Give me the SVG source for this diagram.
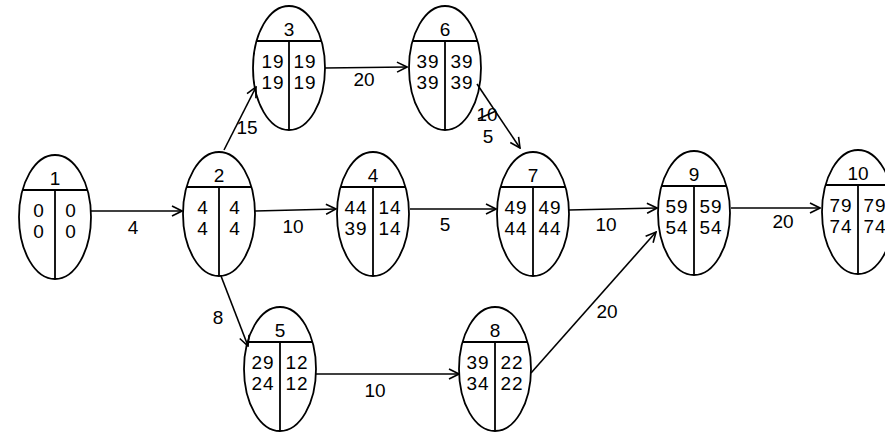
<svg xmlns="http://www.w3.org/2000/svg" width="885" height="436" viewBox="0 0 885 436">
<style>
text{font-family:"Liberation Sans","DejaVu Sans",sans-serif;font-size:19px;fill:#000;text-anchor:middle}
.v{font-size:20px;letter-spacing:1px}
.e line{stroke:#000;stroke-width:1.6;fill:none;marker-end:url(#a)}
</style>
<defs>
<marker id="a" viewBox="0 0 12 12" refX="11" refY="6" markerWidth="12" markerHeight="12" markerUnits="userSpaceOnUse" orient="auto">
<path d="M1,1 L11,6 L1,11" fill="none" stroke="#000" stroke-width="1.6"/>
</marker>
<g id="shape" fill="none" stroke="#000" stroke-width="1.8">
<ellipse cx="0" cy="-3" rx="36" ry="62"/>
<line x1="-33" y1="-30" x2="33" y2="-30"/>
<line x1="0" y1="-30" x2="0" y2="59"/>
</g>
</defs>
<rect width="885" height="436" fill="#fff"/>
<g id="connectors" class="e">
<line x1="91" y1="211" x2="182" y2="211"/>
<line x1="224" y1="150" x2="256" y2="87"/>
<line x1="255" y1="211" x2="336" y2="209"/>
<line x1="221" y1="276" x2="248" y2="346"/>
<line x1="325" y1="68" x2="407" y2="67"/>
<line x1="477" y1="84" x2="520" y2="148"/>
<line x1="410" y1="209" x2="496" y2="209"/>
<line x1="569" y1="210" x2="657" y2="208"/>
<line x1="531" y1="373" x2="656" y2="232"/>
<line x1="731" y1="208" x2="820" y2="208"/>
<line x1="316" y1="374" x2="459" y2="374"/>
<text x="133" y="234">4</text>
<text x="247" y="134">15</text>
<text x="293" y="233">10</text>
<text x="218" y="324">8</text>
<text x="364" y="86">20</text>
<text x="487" y="121">10</text>
<line x1="478" y1="119" x2="496" y2="111" style="marker-end:none;stroke-width:1.4"/>
<text x="488" y="143">5</text>
<text x="445" y="231">5</text>
<text x="606" y="231">10</text>
<text x="607" y="318">20</text>
<text x="783" y="228">20</text>
<text x="375" y="397">10</text>
</g>
<g id="node1" transform="translate(55,220)"><use href="#shape"/><text x="0" y="-35">1</text><g class="v"><text x="-16" y="-3">0</text><text x="16" y="-3">0</text><text x="-16" y="18">0</text><text x="16" y="18">0</text></g></g>
<g id="node2" transform="translate(219,217)"><use href="#shape"/><text x="0" y="-35">2</text><g class="v"><text x="-16" y="-3">4</text><text x="16" y="-3">4</text><text x="-16" y="18">4</text><text x="16" y="18">4</text></g></g>
<g id="node3" transform="translate(289,71)"><use href="#shape"/><text x="0" y="-35">3</text><g class="v"><text x="-16" y="-3">19</text><text x="16" y="-3">19</text><text x="-16" y="18">19</text><text x="16" y="18">19</text></g></g>
<g id="node6" transform="translate(445,71)"><use href="#shape"/><text x="0" y="-35">6</text><g class="v"><text x="-17" y="-3">39</text><text x="17" y="-3">39</text><text x="-17" y="18">39</text><text x="17" y="18">39</text></g></g>
<g id="node4" transform="translate(373,217)"><use href="#shape"/><text x="0" y="-35">4</text><g class="v"><text x="-17" y="-3">44</text><text x="17" y="-3">14</text><text x="-17" y="18">39</text><text x="17" y="18">14</text></g></g>
<g id="node7" transform="translate(533,217)"><use href="#shape"/><text x="0" y="-35">7</text><g class="v"><text x="-17" y="-3">49</text><text x="17" y="-3">49</text><text x="-17" y="18">44</text><text x="17" y="18">44</text></g></g>
<g id="node9" transform="translate(694,216)"><use href="#shape"/><text x="0" y="-35">9</text><g class="v"><text x="-17" y="-3">59</text><text x="17" y="-3">59</text><text x="-17" y="18">54</text><text x="17" y="18">54</text></g></g>
<g id="node10" transform="translate(858,215)"><use href="#shape"/><text x="0" y="-35">10</text><g class="v"><text x="-17" y="-3">79</text><text x="17" y="-3">79</text><text x="-17" y="18">74</text><text x="17" y="18">74</text></g></g>
<g id="node5" transform="translate(280,372)"><use href="#shape"/><text x="0" y="-35">5</text><g class="v"><text x="-17" y="-3">29</text><text x="17" y="-3">12</text><text x="-17" y="18">24</text><text x="17" y="18">12</text></g></g>
<g id="node8" transform="translate(495,372)"><use href="#shape"/><text x="0" y="-35">8</text><g class="v"><text x="-17" y="-3">39</text><text x="17" y="-3">22</text><text x="-17" y="18">34</text><text x="17" y="18">22</text></g></g>
</svg>
